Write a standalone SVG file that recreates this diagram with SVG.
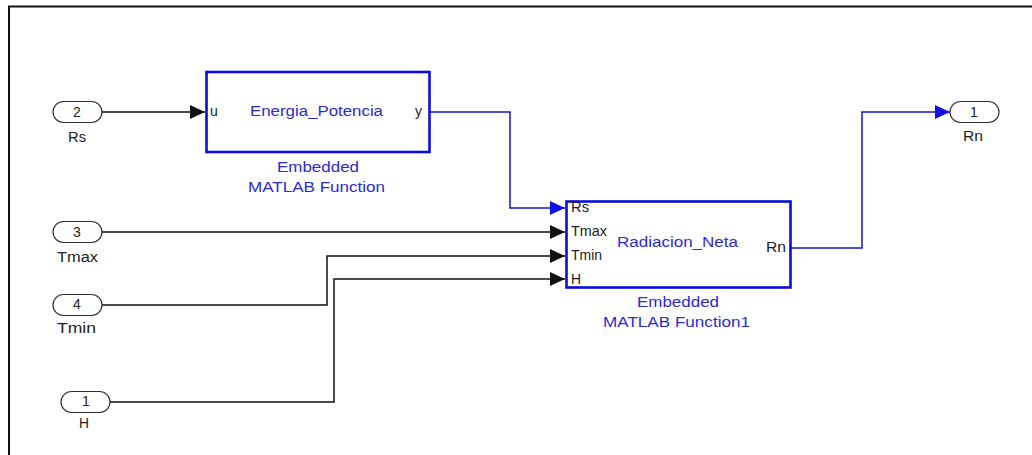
<svg xmlns="http://www.w3.org/2000/svg" width="1032" height="455" viewBox="0 0 1032 455">
<style>
text{font-family:"Liberation Sans",Arial,sans-serif;}
.port{fill:#fff;stroke:#333;stroke-width:1.2;}
.pnum{font-size:14px;fill:#222;text-anchor:middle;}
.plab{font-size:14px;fill:#222;}
.blk{fill:#fff;stroke:#0a0ae6;stroke-width:2.6;}
.bname{font-size:14px;fill:#2a2adc;}
.bport{font-size:14px;fill:#222;}
.cap{font-size:14px;fill:#2a2adc;}
.wk{fill:none;stroke:#111;stroke-width:1.5;}
.wb{fill:none;stroke:#1010e0;stroke-width:1.5;}
</style>
<defs>
<marker id="ak" markerUnits="userSpaceOnUse" markerWidth="16" markerHeight="15" refX="15" refY="7.5" orient="auto"><path d="M0,0.5 L15,7.5 L0,14.5 z" fill="#111"/></marker>
<marker id="ab" markerUnits="userSpaceOnUse" markerWidth="16" markerHeight="15" refX="15" refY="7.5" orient="auto"><path d="M0,0.5 L15,7.5 L0,14.5 z" fill="#1010e0"/></marker>
</defs>
<rect width="1032" height="455" fill="#fff"/>
<path d="M9,455 L9,6.5 L1032,6.5" fill="none" stroke="#111" stroke-width="2"/>

<g id="connectors">
<path class="wk" d="M102,112 L205,112" marker-end="url(#ak)"/>
<path class="wb" d="M430,112 L510,112 L510,208 L565,208" marker-end="url(#ab)"/>
<path class="wk" d="M102,232 L565,232" marker-end="url(#ak)"/>
<path class="wk" d="M102,305 L327,305 L327,256 L565,256" marker-end="url(#ak)"/>
<path class="wk" d="M110,402 L334,402 L334,279 L565,279" marker-end="url(#ak)"/>
<path class="wb" d="M791,248 L862,248 L862,112 L950,112" marker-end="url(#ab)"/>
</g>

<g id="in_Rs">
<rect class="port" x="53" y="101.5" width="49" height="21" rx="10.5"/>
<text class="pnum" x="77" y="117">2</text>
<text class="plab" x="68" y="142" textLength="18" lengthAdjust="spacingAndGlyphs">Rs</text>
</g>
<g id="in_Tmax">
<rect class="port" x="53" y="221.5" width="49" height="21" rx="10.5"/>
<text class="pnum" x="77" y="237">3</text>
<text class="plab" x="57" y="262" textLength="41" lengthAdjust="spacingAndGlyphs">Tmax</text>
</g>
<g id="in_Tmin">
<rect class="port" x="53" y="294.5" width="49" height="21" rx="10.5"/>
<text class="pnum" x="77" y="309">4</text>
<text class="plab" x="57" y="333" textLength="39" lengthAdjust="spacingAndGlyphs">Tmin</text>
</g>
<g id="in_H">
<rect class="port" x="61" y="391.5" width="49" height="21" rx="10.5"/>
<text class="pnum" x="86" y="406">1</text>
<text class="plab" x="79" y="428" textLength="10" lengthAdjust="spacingAndGlyphs">H</text>
</g>

<g id="energia_potencia">
<rect class="blk" x="206.5" y="72" width="223" height="80"/>
<text class="bport" x="210" y="116">u</text>
<text class="bport" x="415" y="116">y</text>
<text class="bname" x="250" y="116" textLength="133" lengthAdjust="spacingAndGlyphs">Energia_Potencia</text>
<text class="cap" x="277" y="172" textLength="82" lengthAdjust="spacingAndGlyphs">Embedded</text>
<text class="cap" x="248" y="192" textLength="137" lengthAdjust="spacingAndGlyphs">MATLAB Function</text>
</g>

<g id="radiacion_neta">
<rect class="blk" x="566.5" y="201.5" width="224" height="86"/>
<text class="bport" x="571" y="212" textLength="18" lengthAdjust="spacingAndGlyphs">Rs</text>
<text class="bport" x="571" y="236" textLength="36" lengthAdjust="spacingAndGlyphs">Tmax</text>
<text class="bport" x="571" y="260" textLength="31" lengthAdjust="spacingAndGlyphs">Tmin</text>
<text class="bport" x="571" y="284" textLength="10" lengthAdjust="spacingAndGlyphs">H</text>
<text class="bname" x="617" y="247" textLength="121" lengthAdjust="spacingAndGlyphs">Radiacion_Neta</text>
<text class="bport" x="766" y="252" textLength="20" lengthAdjust="spacingAndGlyphs">Rn</text>
<text class="cap" x="637" y="307" textLength="82" lengthAdjust="spacingAndGlyphs">Embedded</text>
<text class="cap" x="603" y="327" textLength="147" lengthAdjust="spacingAndGlyphs">MATLAB Function1</text>
</g>

<g id="out_Rn">
<rect class="port" x="950" y="101.5" width="49" height="21" rx="10.5"/>
<text class="pnum" x="974" y="117">1</text>
<text class="plab" x="963" y="141" textLength="20" lengthAdjust="spacingAndGlyphs">Rn</text>
</g>
</svg>
